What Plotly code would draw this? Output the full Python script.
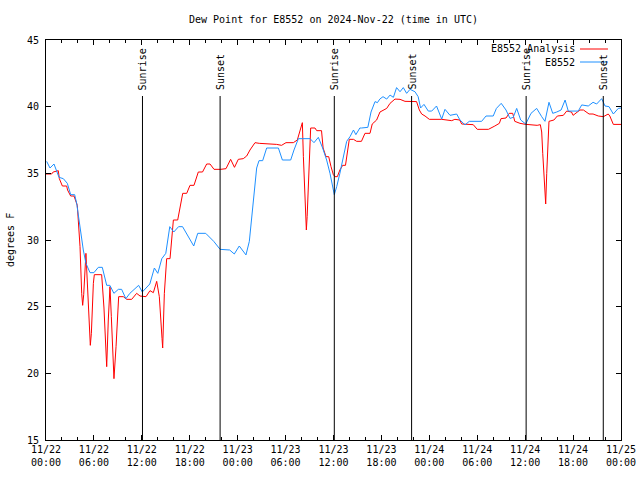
import pandas as pd
import plotly.graph_objects as go

# ---- data (hours after 2024-11-22 00:00 UTC, dew point in F) ----
analysis_hours = [0.0, 0.7, 0.9, 1.54, 1.67, 2.05, 2.59, 2.7, 3.09, 3.51, 3.92, 4.26, 4.47, 4.59, 4.72,
                  4.88, 5.0, 5.22, 5.34, 5.55, 5.68, 5.8, 5.93, 6.05, 6.97, 7.26, 7.47, 7.6, 7.8, 8.01,
                  8.18, 8.39, 8.51, 8.77, 8.97, 9.1, 9.68, 10.1, 10.73, 11.35, 11.77, 12.52, 13.02, 13.44,
                  13.86, 14.19, 14.53, 14.61, 14.82, 15.03, 15.11, 15.53, 15.95, 16.49, 17.12, 17.62, 18.03,
                  18.53, 19.07, 19.6, 20.12, 20.54, 21.04, 21.87, 22.54, 23.12, 23.6, 24.08, 24.7, 25.13,
                  25.54, 26.17, 26.7, 28.88, 29.5, 30.05, 30.97, 31.47, 31.8, 32.1, 32.23, 32.43, 32.5,
                  32.6, 32.7, 32.85, 32.97, 33.14, 33.68, 33.9, 34.5, 34.7, 35.06, 35.4, 35.69, 35.98,
                  36.19, 36.48, 36.8, 37.15, 37.5, 37.8, 37.98, 38.5, 38.9, 39.5, 39.94, 40.57, 40.85,
                  41.4, 41.82, 42.66, 43.08, 43.7, 44.33, 44.95, 46.4, 46.75, 47.04, 47.46, 48.0, 49.55,
                  50.17, 50.8, 51.2, 51.8, 52.05, 53.1, 53.5, 54.0, 55.4, 56.2, 56.77, 56.97, 57.6, 58.0,
                  58.44, 58.7, 59.35, 59.98, 60.6, 61.5, 61.9, 62.07, 62.2, 62.36, 62.49, 62.57, 62.7,
                  62.8, 62.98, 63.6, 64.03, 64.78, 65.2, 65.8, 66.0, 66.86, 67.3, 68.0, 68.5, 69.16, 69.8,
                  70.4, 70.6, 71.04, 71.66, 72.0]
analysis_values = [34.95, 34.95, 35.1, 35.2, 34.6, 34.05, 34.05, 33.75, 33.3, 33.3, 32.6, 29.5, 26.0, 25.1, 25.9,
                   27.75, 29.0, 26.25, 25.0, 22.1, 23.0, 25.75, 26.75, 27.4, 27.4, 24.9, 21.25, 20.5, 24.0, 26.5,
                   24.25, 20.5, 19.6, 22.0, 25.0, 25.75, 25.75, 25.55, 25.55, 26.0, 25.8, 25.75, 26.2, 26.05,
                   26.9, 25.75, 22.6, 21.9, 26.0, 27.75, 28.6, 28.6, 31.5, 31.5, 33.5, 33.5, 34.1,
                   34.1, 35.1, 35.1, 35.7, 35.7, 35.3, 35.3, 35.35, 36.05, 35.45, 36.05, 36.1, 36.3,
                   36.75, 37.3, 37.25, 37.17, 37.1, 37.3, 37.3, 37.5, 38.1, 38.8, 36.25, 33.75, 31.75,
                   30.75, 31.75, 33.75, 36.25, 38.4, 38.4, 38.2, 38.2, 36.9, 36.25, 36.25, 35.5, 34.9,
                   34.75, 34.75, 35.25, 35.6, 35.6, 36.7, 37.55, 37.55, 37.4, 37.4, 38.0, 38.0, 38.7,
                   39.0, 39.6, 39.87, 40.25, 40.57, 40.55, 40.4, 40.38, 39.75, 39.45, 39.3, 39.05, 39.05,
                   39.0, 38.95, 39.05, 39.0, 38.7, 38.7, 38.65, 38.3, 38.3, 38.55, 38.75, 39.1, 39.15, 39.5,
                   39.5, 38.9, 38.75, 38.68, 38.65, 38.6, 38.65, 38.1, 36.5, 35.0, 33.45, 32.7, 35.0,
                   36.5, 38.9, 39.0, 39.3, 39.35, 39.67, 39.6, 39.35, 39.75, 39.75, 39.45, 39.45, 39.3, 39.25,
                   39.45, 39.3, 38.67, 38.67, 38.67]

obs_hours = [0.08, 0.5, 1.0, 1.63, 2.17, 2.67, 3.09, 3.59, 3.84, 4.17, 4.42, 4.67, 5.0, 5.51, 6.0, 6.55,
             7.05, 7.6, 8.0, 8.5, 9.06, 9.47, 10.0, 10.5, 11.6, 12.06, 13.0, 13.57, 14.0, 14.5, 15.0, 15.5,
             16.0, 16.6, 17.1, 18.0, 18.5, 19.0, 20.0, 21.0, 21.8, 23.0, 23.58, 24.2, 25.04, 25.46, 25.75,
             26.05, 26.38, 26.67, 27.13, 27.63, 29.1, 29.6, 30.64, 31.05, 31.6, 33.06, 33.56, 34.1, 34.64,
             35.14, 35.56, 36.1, 36.4, 36.8, 37.2, 37.65, 38.07, 38.5, 38.8, 39.3, 39.5, 40.3, 40.7,
             40.86, 41.2, 41.5, 41.8, 42.2, 42.66, 43.08, 43.5, 43.9, 44.33, 44.74, 45.16, 45.58, 46.2,
             46.6, 46.9, 47.33, 47.87, 48.3, 48.9, 49.55, 49.96, 50.59, 51.42, 51.84, 52.47, 53.0, 54.55,
             55.1, 56.0, 56.4, 57.0, 57.6, 58.1, 58.5, 58.94, 59.44, 60.07, 60.73, 61.44, 62.07, 62.48,
             62.98, 63.45, 63.95, 64.5, 65.0, 65.4, 66.65, 67.08, 67.9, 68.5, 68.95, 69.58, 70.0, 70.5,
             71.04, 71.66, 72.0]
obs_values = [35.9, 35.4, 35.7, 34.7, 34.6, 34.25, 33.4, 33.4, 32.75, 31.25, 30.25, 29.25, 28.25, 27.55, 27.55, 27.95,
              27.95, 26.6, 26.6, 26.0, 26.3, 26.3, 25.6, 26.0, 26.6, 26.1, 26.7, 27.9, 27.5, 28.6, 29.0, 31.0,
              30.6, 31.0, 31.0, 30.0, 29.55, 30.5, 30.5, 29.9, 29.3, 29.25, 28.95, 29.55, 28.88, 29.9, 31.75,
              33.75, 35.4, 35.95, 35.95, 36.9, 36.9, 36.0, 36.0, 36.75, 37.6, 37.6, 37.3, 37.7, 36.9,
              36.0, 35.0, 33.4, 34.0, 35.0, 36.25, 37.4, 37.75, 38.25, 37.9, 38.4, 38.4, 38.45, 39.6,
              39.87, 40.38, 40.3, 40.57, 40.75, 40.57, 40.87, 40.7, 41.43, 41.12, 41.43, 41.0, 41.3, 41.12,
              40.75, 39.9, 40.17, 39.67, 39.67, 40.05, 39.07, 39.8, 39.35, 39.45, 39.0, 38.63, 38.9, 38.9,
              39.3, 39.3, 39.87, 40.25, 39.75, 39.12, 39.2, 39.87, 39.0, 38.7, 39.5, 39.87, 39.25, 38.9,
              40.33, 39.5, 39.6, 39.75, 40.5, 39.67, 39.67, 40.13, 40.05, 40.33, 40.2, 40.6, 40.05, 40.0,
              39.45, 39.87, 39.9]

sunrise_hours = [12.08, 36.1, 60.12]
sunset_hours = [21.8, 45.78, 69.78]

series_names = ["E8552 Analysis", "E8552"]
series_colors = ["#ff0000", "#1e90ff"]
title_text = "Dew Point for E8552 on 2024-Nov-22 (time in UTC)"
y_label = "degrees F"

base = pd.Timestamp("2024-11-22 00:00")
def to_time(hours):
    return [base + pd.Timedelta(hours=h) for h in hours]

FONT = "DejaVu Sans Mono"
fig = go.Figure()
fig.add_trace(go.Scatter(x=to_time(analysis_hours), y=analysis_values, mode="lines",
                         line=dict(color=series_colors[0], width=1), name=series_names[0]))
fig.add_trace(go.Scatter(x=to_time(obs_hours), y=obs_values, mode="lines",
                         line=dict(color=series_colors[1], width=1), name=series_names[1]))

# sunrise / sunset markers
for label, hrs in (("Sunrise", sunrise_hours), ("Sunset", sunset_hours)):
    for t in to_time(hrs):
        fig.add_shape(type="line", xref="x", yref="paper", x0=t, x1=t, y0=0, y1=0.86,
                      line=dict(color="black", width=1))
        fig.add_annotation(x=t, xref="x", y=0.87, yref="paper", text=label, textangle=-90,
                           showarrow=False, xanchor="center", yanchor="bottom",
                           font=dict(family=FONT, size=10, color="black"))

# legend drawn gnuplot-style (text then line sample)
legend_rows = [0.9775, 0.945]
for name, color, yy in zip(series_names, series_colors, legend_rows):
    fig.add_annotation(x=0.9235, xref="paper", y=yy, yref="paper", text=name, showarrow=False,
                       xanchor="right", yanchor="middle", font=dict(family=FONT, size=10, color="black"))
    fig.add_shape(type="line", xref="paper", yref="paper", x0=0.9287, x1=0.9774, y0=yy, y1=yy,
                  line=dict(color=color, width=1))

fig.add_annotation(x=-0.0626, xref="paper", y=0.5, yref="paper", text=y_label, textangle=-90,
                   showarrow=False, xanchor="center", yanchor="middle",
                   font=dict(family=FONT, size=10, color="black"))

fig.update_layout(
    width=640, height=480,
    margin=dict(l=46, r=19, t=40, b=40, pad=0, autoexpand=False),
    paper_bgcolor="white", plot_bgcolor="white",
    showlegend=False,
    font=dict(family=FONT, size=10, color="black"),
    title=dict(text=title_text, x=0.5, xref="paper", xanchor="center",
               y=1 - 19 / 480, yref="container", yanchor="middle",
               font=dict(family=FONT, size=10, color="black"), automargin=False),
)
fig.update_xaxes(
    range=[base, base + pd.Timedelta(hours=72)], automargin=False,
    type="date", tickformat="%m/%d<br>%H:%M", dtick=6 * 3600 * 1000, tick0=base,
    ticks="inside", ticklen=5, tickcolor="black", showline=True, linecolor="black", linewidth=1,
    mirror="allticks", showgrid=False, zeroline=False,
    minor=dict(dtick=2 * 3600 * 1000, ticks="inside", ticklen=3, tickcolor="black", showgrid=False),
    tickfont=dict(family=FONT, size=10, color="black"),
)
fig.update_yaxes(
    range=[15, 45], dtick=5, tick0=15, automargin=False, ticklabelstandoff=4,
    ticks="inside", ticklen=5, tickcolor="black", showline=True, linecolor="black", linewidth=1,
    mirror="allticks", showgrid=False, zeroline=False,
    tickfont=dict(family=FONT, size=10, color="black"),
)

fig.write_html("out.html", config={"displayModeBar": False},
               post_script="document.body.style.margin='0';")
